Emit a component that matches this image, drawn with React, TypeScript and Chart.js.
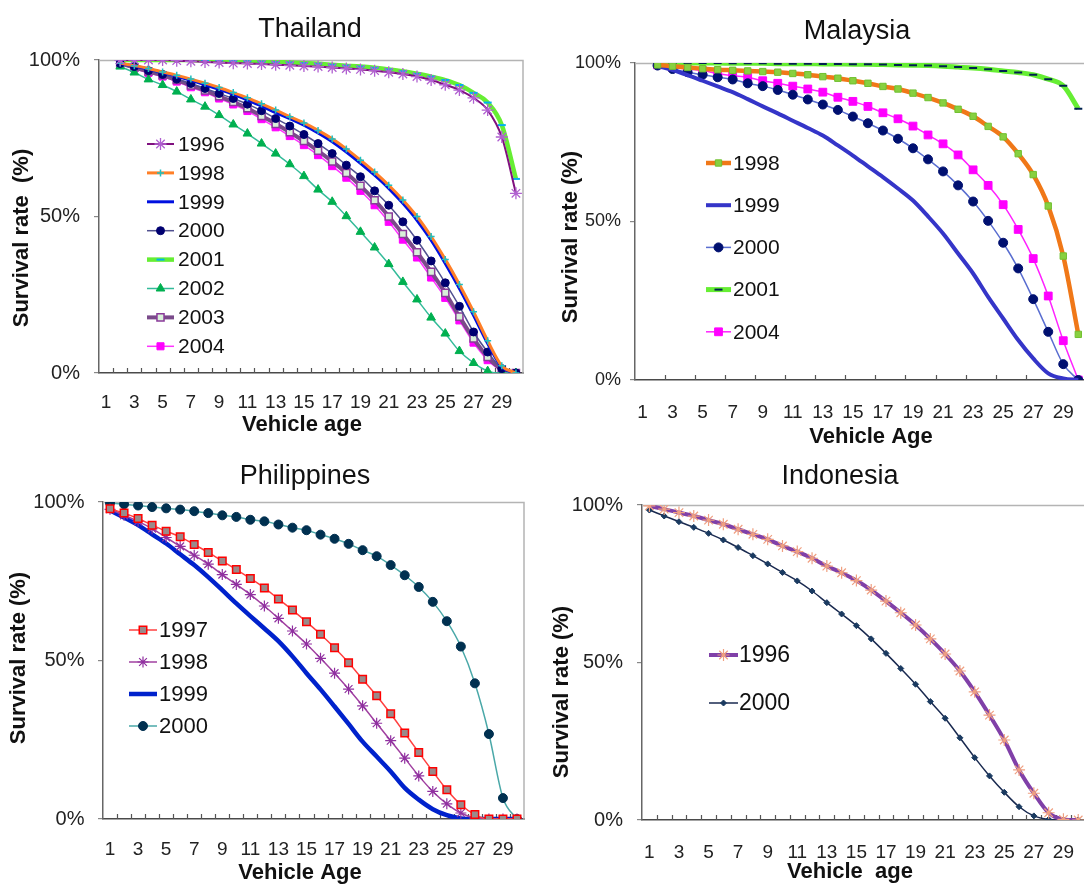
import React, { useEffect, useRef } from 'react';
import { Chart, registerables } from 'chart.js';
import { drawPoint } from 'chart.js/helpers';

Chart.register(...registerables);

const FONT = '"Liberation Sans", Arial, Helvetica, sans-serif';
Chart.defaults.font.family = FONT;

// ---------- data ----------
const AGES = ['1', '2', '3', '4', '5', '6', '7', '8', '9', '10', '11', '12', '13', '14', '15', '16', '17', '18', '19', '20', '21', '22', '23', '24', '25', '26', '27', '28', '29', '30'];
const Y_TICKS = [0, 50, 100];

// Thailand
const TH_1996 = [null, 100, 100, 100, 100, 99.8, 99.6, 99.4, 99.2, 99.0, 98.9, 98.7, 98.5, 98.3, 98.1, 97.9, 97.6, 97.3, 97.0, 96.6, 96.1, 95.5, 94.7, 93.6, 92.1, 90.4, 87.9, 84.0, 75.4, 57.4];
const TH_1998 = [null, 99.0, 98.2, 97.3, 96.2, 95.1, 93.9, 92.6, 91.2, 89.6, 87.9, 86.0, 84.0, 81.9, 79.9, 77.5, 74.8, 71.6, 68.0, 64.2, 60.0, 55.3, 50.0, 43.6, 36.3, 28.3, 19.6, 10.3, 2.3, 0];
const TH_1999 = [null, 98.9, 98.1, 97.1, 96.0, 94.8, 93.5, 92.1, 90.6, 89.0, 87.2, 85.3, 83.2, 81.3, 79.2, 76.7, 73.9, 70.6, 67.0, 63.2, 59.0, 54.2, 48.8, 42.4, 35.0, 27.0, 18.4, 9.4, 1.9, 0];
const TH_2000 = [null, 98.9, 97.9, 96.6, 95.4, 93.9, 92.5, 90.9, 89.3, 87.7, 85.9, 83.8, 81.3, 78.9, 76.2, 73.3, 70.1, 66.4, 62.7, 58.2, 53.6, 48.3, 42.4, 35.8, 28.8, 21.3, 13.1, 6.7, 1.4, 0];
const TH_2001 = [null, 100, 100, 100, 100, 100, 100, 99.9, 99.8, 99.7, 99.6, 99.5, 99.3, 99.2, 99.0, 98.8, 98.5, 98.2, 97.9, 97.5, 97.0, 96.4, 95.6, 94.7, 93.6, 92.0, 89.5, 86.4, 79.2, 62.0];
const TH_2002 = [null, 97.9, 96.0, 93.8, 92.0, 89.9, 87.4, 85.1, 82.4, 79.4, 76.5, 73.3, 70.1, 66.7, 62.9, 58.6, 54.7, 50.1, 45.1, 40.1, 34.8, 29.1, 23.5, 17.7, 12.6, 7.0, 3.2, 0.6, 0, 0];
const TH_2003 = [null, 98.9, 97.6, 96.3, 95.1, 93.6, 91.9, 90.3, 88.4, 86.6, 84.6, 82.1, 79.6, 76.9, 74.1, 71.0, 67.6, 63.9, 59.8, 55.2, 50.0, 44.4, 38.6, 32.3, 25.6, 18.0, 11.0, 5.1, 1.2, 0];
const TH_2004 = [null, 98.7, 97.3, 95.9, 94.7, 93.1, 91.3, 89.7, 87.7, 85.8, 83.7, 81.1, 78.5, 75.7, 72.8, 69.6, 66.1, 62.4, 58.2, 53.6, 48.3, 42.6, 36.9, 30.5, 24.0, 16.8, 9.7, 4.1, 0.8, 0];

// Malaysia
const MY_1998 = [null, 99.4, 99.0, 98.6, 98.2, 97.9, 97.7, 97.5, 97.3, 97.1, 96.7, 96.3, 95.7, 95.2, 94.4, 93.6, 92.6, 91.8, 90.5, 89.1, 87.4, 85.4, 83.2, 80.0, 76.7, 71.4, 64.8, 54.9, 39.1, 14.4];
const MY_1999 = [null, 99.0, 97.8, 96.2, 94.4, 92.6, 90.8, 88.6, 86.3, 84.1, 81.8, 79.5, 77.1, 74.0, 70.8, 67.4, 64.0, 60.4, 56.6, 51.6, 46.2, 39.9, 33.6, 26.2, 19.4, 12.6, 6.8, 2.1, 0.5, 0];
const MY_2000 = [null, 99.2, 98.1, 97.1, 96.3, 95.5, 94.8, 93.6, 92.7, 91.5, 90.0, 88.5, 86.9, 85.2, 83.1, 81.0, 78.7, 76.1, 73.1, 69.6, 65.8, 61.4, 56.3, 50.2, 43.3, 35.2, 25.5, 15.2, 5.0, 0];
const MY_2001 = [null, 100, 100, 100, 100, 100, 99.9, 99.9, 99.9, 99.8, 99.8, 99.8, 99.7, 99.7, 99.6, 99.6, 99.5, 99.4, 99.3, 99.2, 99.0, 98.7, 98.4, 98.0, 97.5, 97.0, 96.3, 94.9, 92.8, 85.6];
const MY_2004 = [null, 99.4, 98.6, 98.1, 97.6, 96.7, 96.0, 95.5, 94.4, 93.6, 92.7, 91.8, 90.8, 89.2, 87.9, 86.3, 84.3, 82.4, 80.1, 77.3, 74.5, 71.0, 66.3, 61.4, 55.3, 47.5, 38.3, 26.5, 12.4, 0];

// Philippines
const PH_1997 = [97.9, 96.5, 94.8, 92.7, 90.8, 89.0, 86.6, 84.1, 81.4, 78.7, 75.9, 72.9, 69.4, 65.9, 62.2, 58.3, 54.0, 49.3, 44.1, 38.9, 33.2, 27.1, 21.0, 15.0, 9.2, 4.5, 1.4, 0, 0, 0];
const PH_1998 = [97.7, 95.8, 93.9, 91.6, 88.8, 86.0, 83.2, 80.4, 77.1, 74.0, 70.8, 67.2, 63.3, 59.3, 55.2, 50.7, 46.0, 41.0, 35.7, 30.2, 24.7, 19.2, 13.6, 8.7, 4.8, 1.9, 0.3, 0, 0, 0];
const PH_1999 = [97.4, 95.1, 92.7, 89.8, 86.9, 83.5, 80.1, 76.3, 72.2, 68.0, 64.0, 60.1, 56.1, 51.3, 46.0, 40.9, 35.5, 30.0, 24.4, 19.7, 15.0, 9.8, 6.1, 3.1, 1.2, 0.2, 0, 0, 0, 0];
const PH_2000 = [99.7, 99.3, 98.9, 98.4, 98.0, 97.6, 97.1, 96.5, 95.8, 95.3, 94.4, 93.9, 92.9, 91.9, 91.1, 89.7, 88.4, 86.8, 84.8, 82.9, 80.1, 76.9, 73.2, 68.5, 62.4, 54.4, 42.8, 26.8, 6.6, 0];

// Indonesia
const ID_1996 = [99.7, 98.7, 97.6, 96.5, 95.2, 93.9, 92.3, 90.7, 89.1, 87.0, 85.2, 83.1, 80.6, 78.5, 76.0, 73.0, 69.5, 65.8, 61.9, 57.5, 52.7, 47.3, 40.7, 33.3, 25.4, 15.9, 8.5, 2.3, 0.2, 0];
const ID_2000 = [98.4, 96.5, 94.7, 92.9, 91.0, 88.9, 86.5, 83.9, 81.3, 78.6, 75.9, 72.7, 69.0, 65.4, 61.7, 57.5, 52.9, 48.1, 43.1, 37.6, 32.3, 26.1, 19.8, 14.0, 8.8, 4.2, 1.3, 0.2, 0, 0];

// ---------- styling ----------
type S = {
  label: string; data: (number | null)[]; color: string; width: number;
  ps?: string; pr?: number; pbg?: string; pbd?: string; pbw?: number;
};

type P = {
  key: string; left: number; top: number; width: number; height: number;
  area: { left: number; top: number; right: number; bottom: number };
  title: string; titleXY: [number, number];
  yTitle: string; yTitleXY: [number, number];
  xTitle: string; xTitleXY: [number, number];
  xTickSize: number; yTickSize: number; xPad: number; yPad: number; tickEvery: number;
  legend: { x0: number; x1: number; tx: number; y0: number; dy: number; size: number };
  series: S[];
};

const PANELS: P[] = [
  {
    key: 'th', left: 0, top: 0, width: 540, height: 450,
    area: { left: 99, top: 60, right: 523, bottom: 373 },
    title: 'Thailand', titleXY: [310, 30],
    yTitle: 'Survival rate  (%)', yTitleXY: [22, 238],
    xTitle: 'Vehicle age', xTitleXY: [302, 425],
    xTickSize: 19, yTickSize: 20, xPad: 18.6, yPad: 14, tickEvery: 1,
    legend: { x0: 147, x1: 174, tx: 178, y0: 144, dy: 28.9, size: 21 },
    series: [
      { label: '1996', data: TH_1996, color: '#80107f', width: 2, ps: 'star', pr: 6, pbg: '#b060d0', pbd: '#b060d0', pbw: 1.3 },
      { label: '1998', data: TH_1998, color: '#ff7f27', width: 3, ps: 'cross', pr: 3.5, pbg: '#20c0c0', pbd: '#20c0c0', pbw: 1.5 },
      { label: '1999', data: TH_1999, color: '#0010e0', width: 3, pr: 0 },
      { label: '2000', data: TH_2000, color: '#505090', width: 1.5, ps: 'circle', pr: 4, pbg: '#000070', pbd: '#000070', pbw: 1 },
      { label: '2001', data: TH_2001, color: '#66ee33', width: 4.5, ps: 'line', pr: 4, pbg: '#00b0f0', pbd: '#00b0f0', pbw: 2 },
      { label: '2002', data: TH_2002, color: '#33bb99', width: 1.5, ps: 'triangle', pr: 5, pbg: '#00b050', pbd: '#00b050', pbw: 1 },
      { label: '2003', data: TH_2003, color: '#7a4a8a', width: 4, ps: 'rect', pr: 5, pbg: '#d8f0d8', pbd: '#8a3a9a', pbw: 1.5 },
      { label: '2004', data: TH_2004, color: '#ff33ff', width: 1.5, ps: 'rect', pr: 5, pbg: '#ff00ff', pbd: '#ff00ff', pbw: 1 },
    ],
  },
  {
    key: 'my', left: 540, top: 0, width: 560, height: 450,
    area: { left: 95, top: 63, right: 554, bottom: 380 },
    title: 'Malaysia', titleXY: [317, 32],
    yTitle: 'Survival rate (%)', yTitleXY: [31, 237],
    xTitle: 'Vehicle Age', xTitleXY: [331, 437],
    xTickSize: 19, yTickSize: 18, xPad: 21.6, yPad: 9, tickEvery: 2,
    legend: { x0: 166, x1: 191, tx: 193, y0: 163, dy: 42.2, size: 21 },
    series: [
      { label: '1998', data: MY_1998, color: '#f07818', width: 4.5, ps: 'rect', pr: 4.5, pbg: '#88d040', pbd: '#70c030', pbw: 1 },
      { label: '1999', data: MY_1999, color: '#3535c8', width: 4, pr: 0 },
      { label: '2000', data: MY_2000, color: '#5a6ed0', width: 1.5, ps: 'circle', pr: 4.5, pbg: '#001070', pbd: '#001070', pbw: 1 },
      { label: '2001', data: MY_2001, color: '#66ee33', width: 5, ps: 'line', pr: 4, pbg: '#002050', pbd: '#002050', pbw: 2 },
      { label: '2004', data: MY_2004, color: '#ff22ff', width: 1.5, ps: 'rect', pr: 5.5, pbg: '#ff00ff', pbd: '#ff00ff', pbw: 1 },
    ],
  },
  {
    key: 'ph', left: 0, top: 440, width: 540, height: 444,
    area: { left: 103, top: 62, right: 524, bottom: 379 },
    title: 'Philippines', titleXY: [305, 37],
    yTitle: 'Survival rate (%)', yTitleXY: [19, 218],
    xTitle: 'Vehicle Age', xTitleXY: [300, 433],
    xTickSize: 19, yTickSize: 20, xPad: 19.6, yPad: 13.5, tickEvery: 1,
    legend: { x0: 129, x1: 157, tx: 159, y0: 190, dy: 32, size: 22 },
    series: [
      { label: '1997', data: PH_1997, color: '#ff4040', width: 1.5, ps: 'rect', pr: 5.3, pbg: '#9a8a8a', pbd: '#ff0000', pbw: 1.5 },
      { label: '1998', data: PH_1998, color: '#a040a0', width: 1.5, ps: 'star', pr: 5.5, pbg: '#9030a0', pbd: '#9030a0', pbw: 1.2 },
      { label: '1999', data: PH_1999, color: '#0022cc', width: 4.5, pr: 0 },
      { label: '2000', data: PH_2000, color: '#4aa8a8', width: 1.5, ps: 'circle', pr: 4.5, pbg: '#003050', pbd: '#003050', pbw: 1 },
    ],
  },
  {
    key: 'id', left: 540, top: 440, width: 560, height: 444,
    area: { left: 102, top: 65, right: 549, bottom: 380 },
    title: 'Indonesia', titleXY: [300, 37],
    yTitle: 'Survival rate (%)', yTitleXY: [22, 252],
    xTitle: 'Vehicle  age', xTitleXY: [310, 432],
    xTickSize: 19, yTickSize: 20, xPad: 21.6, yPad: 14, tickEvery: 1,
    legend: { x0: 169, x1: 198, tx: 199, y0: 215, dy: 48, size: 23 },
    series: [
      { label: '1996', data: ID_1996, color: '#8040a8', width: 4, ps: 'star', pr: 6, pbg: '#f0a080', pbd: '#f0a080', pbw: 1.2 },
      { label: '2000', data: ID_2000, color: '#1a2a50', width: 1.5, ps: 'rectRot', pr: 3, pbg: '#1a3a60', pbd: '#1a3a60', pbw: 1 },
    ],
  },
];

function makeDecor(p: P) {
  return {
    id: 'decor_' + p.key,
    beforeDatasetsDraw(chart: any) {
      const { ctx, chartArea: a, scales } = chart;
      const x = scales.x;
      ctx.save();
      ctx.strokeStyle = '#b4b4b4';
      ctx.lineWidth = 1.5;
      ctx.beginPath();
      ctx.moveTo(a.left, a.top + 0.5);
      ctx.lineTo(a.right, a.top + 0.5);
      ctx.lineTo(a.right, a.bottom);
      ctx.stroke();
      ctx.strokeStyle = '#555';
      ctx.lineWidth = 1.2;
      ctx.beginPath();
      for (let k = p.tickEvery; k < AGES.length; k += p.tickEvery) {
        const px = Math.round(x.getPixelForValue(k - 0.5)) + 0.5;
        ctx.moveTo(px, a.bottom);
        ctx.lineTo(px, a.bottom - 5);
      }
      ctx.stroke();
      ctx.restore();
    },
    afterDraw(chart: any) {
      const { ctx } = chart;
      ctx.save();
      ctx.fillStyle = '#111';
      ctx.textAlign = 'center';
      ctx.textBaseline = 'middle';
      ctx.font = `27px ${FONT}`;
      ctx.fillText(p.title, p.titleXY[0], p.titleXY[1]);
      ctx.font = `bold 22px ${FONT}`;
      ctx.fillText(p.xTitle, p.xTitleXY[0], p.xTitleXY[1]);
      ctx.save();
      ctx.translate(p.yTitleXY[0], p.yTitleXY[1]);
      ctx.rotate(-Math.PI / 2);
      ctx.fillText(p.yTitle, 0, 0);
      ctx.restore();

      const lg = p.legend;
      chart.data.datasets.forEach((ds: any, i: number) => {
        const y = lg.y0 + i * lg.dy;
        ctx.save();
        ctx.strokeStyle = ds.borderColor;
        ctx.lineWidth = ds.borderWidth;
        ctx.beginPath();
        ctx.moveTo(lg.x0, y);
        ctx.lineTo(lg.x1, y);
        ctx.stroke();
        if (ds.pointRadius > 0) {
          ctx.fillStyle = ds.pointBackgroundColor;
          ctx.strokeStyle = ds.pointBorderColor;
          ctx.lineWidth = ds.pointBorderWidth;
          drawPoint(ctx, { pointStyle: ds.pointStyle, radius: ds.pointRadius, rotation: 0, borderWidth: ds.pointBorderWidth } as any, (lg.x0 + lg.x1) / 2, y);
        }
        ctx.restore();
        ctx.fillStyle = '#111';
        ctx.textAlign = 'left';
        ctx.textBaseline = 'middle';
        ctx.font = `${lg.size}px ${FONT}`;
        ctx.fillText(ds.label, lg.tx, y + 1);
      });
      ctx.restore();
    },
  };
}

function Panel({ p }: { p: P }) {
  const ref = useRef<HTMLCanvasElement | null>(null);
  useEffect(() => {
    if (!ref.current) return;
    const chart = new Chart(ref.current, {
      type: 'line',
      data: {
        labels: AGES,
        datasets: p.series.map((s) => ({
          label: s.label,
          data: s.data,
          borderColor: s.color,
          backgroundColor: s.color,
          borderWidth: s.width,
          pointStyle: (s.ps || 'circle') as any,
          pointRadius: s.pr || 0,
          pointHoverRadius: s.pr || 0,
          pointBackgroundColor: s.pbg || s.color,
          pointBorderColor: s.pbd || s.color,
          pointBorderWidth: s.pbw || 1,
          cubicInterpolationMode: 'monotone' as const,
          fill: false,
          spanGaps: false,
        })),
      },
      options: {
        responsive: false,
        animation: false,
        devicePixelRatio: 1,
        events: [],
        layout: { padding: { left: 0, top: p.area.top, right: p.width - p.area.right, bottom: 0 } },
        plugins: { legend: { display: false }, tooltip: { enabled: false }, title: { display: false } },
        scales: {
          x: {
            type: 'category',
            offset: true,
            grid: { display: false, drawTicks: false, offset: true },
            border: { display: true, color: '#4a4a4a', width: 1.5 },
            ticks: {
              autoSkip: false,
              maxRotation: 0,
              minRotation: 0,
              padding: p.xPad,
              color: '#222',
              font: { size: p.xTickSize, family: FONT },
              callback: (_v: any, i: number) => (i % 2 === 0 ? AGES[i] : ''),
            },
            afterFit: (sc: any) => { sc.height = p.height - p.area.bottom; },
          },
          y: {
            min: 0,
            max: 100,
            afterBuildTicks: (sc: any) => { sc.ticks = Y_TICKS.map((v) => ({ value: v })); },
            ticks: { padding: p.yPad, color: '#222', font: { size: p.yTickSize, family: FONT }, callback: (v: any) => `${v}%` },
            grid: { drawOnChartArea: false, drawTicks: true, tickLength: 5, color: '#888', lineWidth: 1.2 },
            border: { display: true, color: '#666', width: 1.5 },
            afterFit: (sc: any) => { sc.width = p.area.left; },
          },
        },
      } as any,
      plugins: [makeDecor(p)],
    });
    return () => chart.destroy();
  }, [p]);
  return (
    <canvas
      ref={ref}
      width={p.width}
      height={p.height}
      style={{ position: 'absolute', left: p.left, top: p.top, width: p.width, height: p.height }}
    />
  );
}

export default function App() {
  return (
    <div style={{ position: 'absolute', left: 0, top: 0, width: 1084, height: 884, overflow: 'hidden', background: '#fff' }}>
      {PANELS.map((p) => (
        <Panel key={p.key} p={p} />
      ))}
    </div>
  );
}
